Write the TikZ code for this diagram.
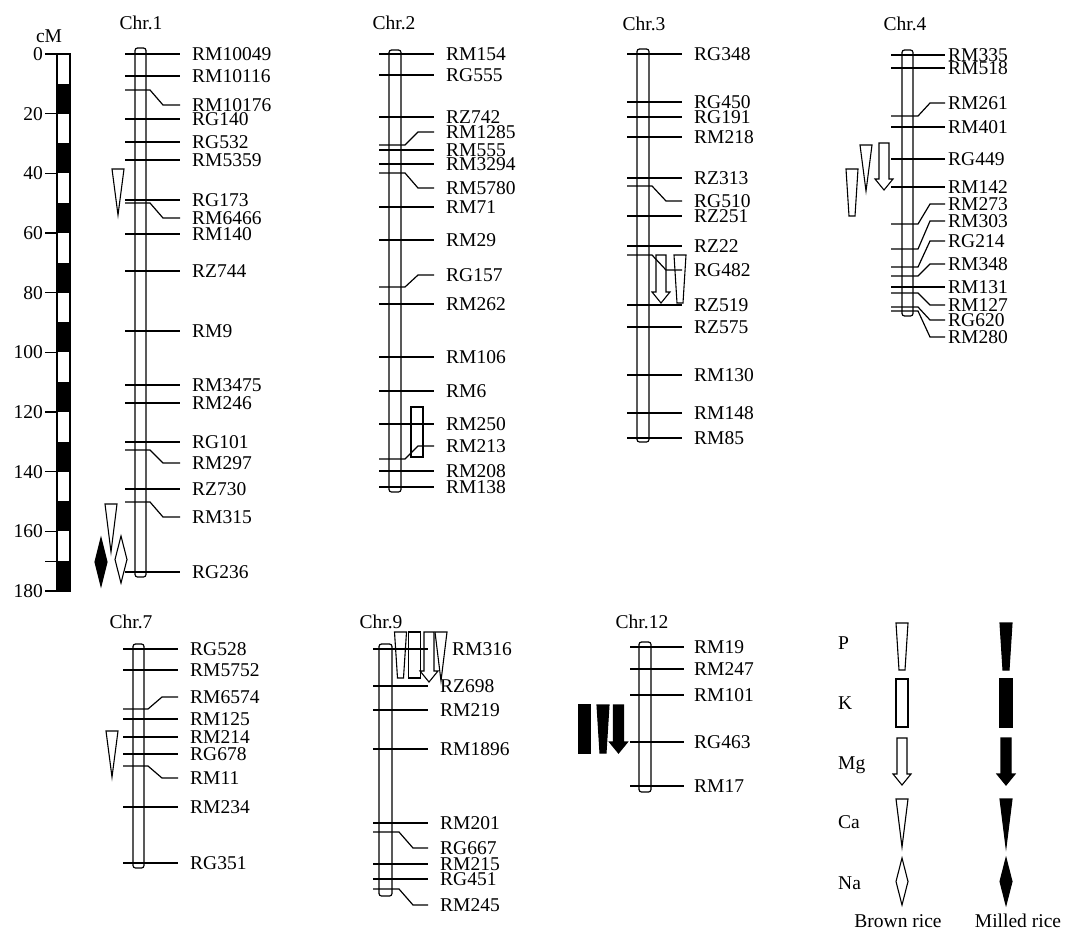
\documentclass[tikz,border=0pt]{standalone}
\usepackage{fontspec}
\setmainfont{Liberation Serif}
\tikzset{
  mline/.style={line width=1.2pt},
  chrom/.style={line width=1.2pt,rounded corners=2.5pt},
  mlab/.style={anchor=west,inner xsep=12pt,inner ysep=0pt,text height=12.9pt,text depth=0pt},
  ttl/.style={inner sep=0pt,text height=13.6pt,text depth=0pt},
  sym/.style={line width=1.1pt,line join=miter},
  milled/.style={fill=black},
}
% symbols: centre x, top y, bottom y
\newcommand{\symP}[4][]{\draw[sym,#1] ({#2-6},#3) -- ({#2+6},#3) -- ({#2+3},#4) -- ({#2-3},#4) -- cycle;}
\newcommand{\symK}[4][]{\draw[sym,#1] ({#2-6},#3) rectangle ({#2+6},#4);}
\newcommand{\symMg}[4][]{\draw[sym,#1] ({#2-5},#3) -- ({#2+5},#3) -- ({#2+5},{#4-11}) -- ({#2+9},{#4-11}) -- (#2,#4) -- ({#2-9},{#4-11}) -- ({#2-5},{#4-11}) -- cycle;}
\newcommand{\symCa}[4][]{\draw[sym,#1] ({#2-6},#3) -- ({#2+6},#3) -- (#2,#4) -- cycle;}
\newcommand{\symNa}[4][]{\draw[sym,#1] (#2,#3) -- ({#2+6},{(#3+#4)/2}) -- (#2,#4) -- ({#2-6},{(#3+#4)/2}) -- cycle;}

\begin{document}
\begin{tikzpicture}[x=1pt,y=-1pt,font=\fontsize{19.5}{23}\selectfont]
  \useasboundingbox (0,0) rectangle (1065,932);

  % cM scale
  \node[ttl] (cm) at (49,36) {cM};
  \foreach \i in {1,3,...,17}
    \fill (57,{54+29.83*\i}) rectangle (70,{54+29.83*(\i+1)});
  \draw[mline] (57,54) rectangle (70,591);
  \foreach \v in {0,20,...,180} {
    \node[anchor=east,inner xsep=2pt,inner ysep=0pt,text height=12.9pt,text depth=0pt] (s\v) at (45,{54+2.983*\v}) {\v};
    \draw[mline] (s\v.east) -- ++(12,0);
  }
  \draw[mline] (45,{54+2.983*170}) -- (57,{54+2.983*170});

  % Chr.1
  \node[ttl] (t1) at (141,23) {Chr.1};
  \draw[chrom] (135,48) rectangle (146,577);
  \foreach \y/\t in {54/RM10049,76/RM10116,119/RG140,142/RG532,160/RM5359,200/RG173,234/RM140,
      271/RZ744,331/RM9,385/RM3475,403/RM246,442/RG101,489/RZ730,572/RG236} {
    \node[mlab] (c1-\t) at (180,\y) {\t};
    \draw[mline] (125,\y) -- (c1-\t.west);
  }
  \foreach \a/\b/\t in {90/105/RM10176,203/218/RM6466,450/463/RM297,502/517/RM315} {
    \node[mlab] (c1-\t) at (180,\b) {\t};
    \draw[mline] (125,\a) -- (150,\a) -- (163,\b) -- (c1-\t.west);
  }
  \symCa{118}{169}{215}
  \symCa{111}{504}{552}
  \symNa{121}{536}{583}
  \symNa[milled]{101}{538}{586}

  % Chr.2
  \node[ttl] (t2) at (394,23) {Chr.2};
  \draw[chrom] (389,50) rectangle (401,492);
  \foreach \y/\t in {54/RM154,75/RG555,117/RZ742,150/RM555,164/RM3294,207/RM71,240/RM29,
      304/RM262,357/RM106,391/RM6,424/RM250,471/RM208,487/RM138} {
    \node[mlab] (c2-\t) at (434,\y) {\t};
    \draw[mline] (379,\y) -- (c2-\t.west);
  }
  \foreach \a/\b/\t in {145/132/RM1285,173/188/RM5780,287/275/RG157,459/446/RM213} {
    \node[mlab] (c2-\t) at (434,\b) {\t};
    \draw[mline] (379,\a) -- (405,\a) -- (418,\b) -- (c2-\t.west);
  }
  \symK{417}{407}{457}

  % Chr.3
  \node[ttl] (t3) at (644,24) {Chr.3};
  \draw[chrom] (637,49) rectangle (649,442);
  \foreach \y/\t in {54/RG348,102/RG450,117/RG191,137/RM218,178/RZ313,216/RZ251,246/RZ22,
      305/RZ519,327/RZ575,375/RM130,413/RM148,438/RM85} {
    \node[mlab] (c3-\t) at (682,\y) {\t};
    \draw[mline] (627,\y) -- (c3-\t.west);
  }
  \foreach \a/\b/\t in {186/201/RG510,255/270/RG482} {
    \node[mlab] (c3-\t) at (682,\b) {\t};
    \draw[mline] (627,\a) -- (652,\a) -- (666,\b) -- (c3-\t.west);
  }
  \symMg{661}{255}{303}
  \symP{680}{255}{303}

  % Chr.4
  \node[ttl] (t4) at (905,24) {Chr.4};
  \draw[chrom] (902,50) rectangle (913,316);
  \begin{scope}[mlab/.append style={inner xsep=3pt}]
  \foreach \y/\t in {55/RM335,68/RM518,127/RM401,159/RG449,187/RM142,287/RM131} {
    \node[mlab] (c4-\t) at (945,\y) {\t};
    \draw[mline] (891,\y) -- (c4-\t.west);
  }
  \foreach \a/\b/\t in {116/103/RM261,224/204/RM273,249/221/RM303,267/241/RG214,276/264/RM348,
      293/305/RM127,307/320/RG620,311/337/RM280} {
    \node[mlab] (c4-\t) at (945,\b) {\t};
    \draw[mline] (891,\a) -- (918,\a) -- (930,\b) -- (c4-\t.west);
  }
  \end{scope}
  \symMg{884}{143}{190}
  \symCa{866}{145}{191}
  \symP{852}{169}{216}

  % Chr.7
  \node[ttl] (t7) at (131,622) {Chr.7};
  \draw[chrom] (133,644) rectangle (144,868);
  \foreach \y/\t in {649/RG528,670/RM5752,719/RM125,737/RM214,754/RG678,807/RM234,863/RG351} {
    \node[mlab] (c7-\t) at (178,\y) {\t};
    \draw[mline] (123,\y) -- (c7-\t.west);
  }
  \foreach \a/\b/\t in {709/697/RM6574,766/778/RM11} {
    \node[mlab] (c7-\t) at (178,\b) {\t};
    \draw[mline] (123,\a) -- (148,\a) -- (162,\b) -- (c7-\t.west);
  }
  \symCa{112}{731}{777}

  % Chr.9
  \node[ttl] (t9) at (381,622) {Chr.9};
  \draw[chrom] (379,644) rectangle (392,896);
  \node[mlab,inner xsep=24pt] (c9-RM316) at (428,649) {RM316};
  \draw[mline] (373,649) -- (c9-RM316.west);
  \foreach \y/\t in {686/RZ698,710/RM219,749/RM1896,823/RM201,864/RM215,879/RG451} {
    \node[mlab] (c9-\t) at (428,\y) {\t};
    \draw[mline] (373,\y) -- (c9-\t.west);
  }
  \foreach \a/\b/\t in {832/848/RG667,889/905/RM245} {
    \node[mlab] (c9-\t) at (428,\b) {\t};
    \draw[mline] (373,\a) -- (399,\a) -- (413,\b) -- (c9-\t.west);
  }
  \symP{400.5}{632}{678}
  \symK{414.5}{632}{678}
  \symMg{429}{632}{682}
  \symCa{441}{632}{681}

  % Chr.12
  \node[ttl] (t12) at (642,622) {Chr.12};
  \draw[chrom] (639,642) rectangle (651,792);
  \foreach \y/\t in {647/RM19,669/RM247,695/RM101,742/RG463,786/RM17} {
    \node[mlab,inner xsep=10pt] (c12-\t) at (684,\y) {\t};
    \draw[mline] (630,\y) -- (c12-\t.west);
  }
  \symK[milled]{584.5}{705}{753}
  \symP[milled]{603}{705}{753}
  \symMg[milled]{618.5}{705}{753}

  % legend
  \foreach \y/\t in {643/P,703/K,763/Mg,822/Ca,883/Na}
    \node[mlab,inner xsep=0pt] (l-\t) at (838,\y) {\t};
  \symP{902}{623}{670}
  \symK{902}{679}{727}
  \symMg{902}{738}{785}
  \symCa{902}{799}{847}
  \symNa{902}{858}{905}
  \symP[milled]{1006}{623}{670}
  \symK[milled]{1006}{679}{727}
  \symMg[milled]{1006}{738}{785}
  \symCa[milled]{1006}{799}{847}
  \symNa[milled]{1006}{858}{905}
  \node[ttl] (brown) at (898,921) {Brown rice};
  \node[ttl] (milledrice) at (1018,921) {Milled rice};
\end{tikzpicture}
\end{document}
